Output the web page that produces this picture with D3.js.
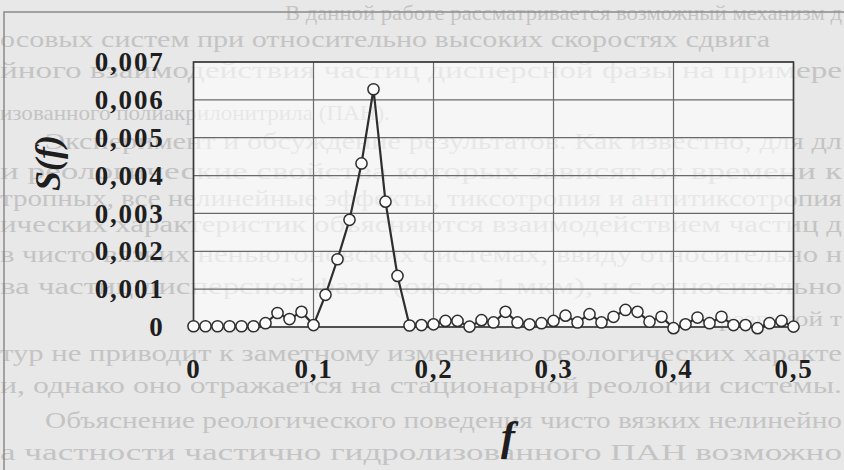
<!DOCTYPE html>
<html><head><meta charset="utf-8">
<script src="https://cdn.jsdelivr.net/npm/d3@7"></script>
<style>
html,body{margin:0;padding:0;background:#e8e8e8;}
svg{display:block;}
</style></head>
<body>
<svg id="chart" width="844" height="470"></svg>
<script>
// ---- data ----
const freq = [0,0.01,0.02,0.03,0.04,0.05,0.06,0.07,0.08,0.09,
  0.10,0.11,0.12,0.13,0.14,0.15,0.16,0.17,0.18,0.19,
  0.20,0.21,0.22,0.23,0.24,0.25,0.26,0.27,0.28,0.29,
  0.30,0.31,0.32,0.33,0.34,0.35,0.36,0.37,0.38,0.39,
  0.40,0.41,0.42,0.43,0.44,0.45,0.46,0.47,0.48,0.49,0.50];
const spectrum = [0.00002,0.00002,0.00002,0.00002,0.00002,0.00002,0.00010,0.00037,0.00021,0.00040,
  0.00005,0.00085,0.00179,0.00283,0.00432,0.00628,0.00331,0.00135,0.00004,0.00005,
  0.00007,0.00016,0.00016,0.00001,0.00018,0.00012,0.00040,0.00012,0.00007,0.00010,
  0.00016,0.00030,0.00012,0.00034,0.00012,0.00027,0.00045,0.00040,0.00014,0.00027,
  -0.00003,0.00007,0.00025,0.00010,0.00027,0.00005,0.00005,-0.00003,0.00010,0.00016,0.00001];
const xTicks = [0,0.1,0.2,0.3,0.4,0.5];
const xTickLabels = ["0","0,1","0,2","0,3","0,4","0,5"];
const yTicks = [0,0.001,0.002,0.003,0.004,0.005,0.006,0.007];
const yTickLabels = ["0","0,001","0,002","0,003","0,004","0,005","0,006","0,007"];
const xTitle = "f";
const yTitle = "S(f)";
const pageLines = [
  "В данной работе рассматривается возможный механизм д",
  "осовых систем при относительно высоких скоростях сдвига",
  "йного взаимодействия частиц дисперсной фазы на примере",
  "изованного полиакрилонитрила (ПАН).",
  "Эксперимент и обсуждение результатов. Как известно, для дл",
  "и реологические свойства которых зависят от времени к",
  "тропных, все нелинейные эффекты, тиксотропия и антитиксотропия",
  "ических характеристик объясняются взаимодействием частиц д",
  "в чисто вязких неньютоновских системах, ввиду относительно н",
  "ва частиц дисперсной фазы (около 1 мкм), и с относительно",
  "с развитой т",
  "тур не приводит к заметному изменению реологических характе",
  "и, однако оно отражается на стационарной реологии системы.",
  "Объяснение реологического поведения чисто вязких нелинейно",
  "а частности частично гидролизованного ПАН возможно"
];

// ---- layout ----
const W = 844, H = 470;
const plot = {left:193.5, right:793.5, top:62, bottom:327};
const svg = d3.select("#chart");

// page background with faint scanned text
svg.append("rect").attr("width",W).attr("height",H).attr("fill","#e8e8e8");
const lineGeom = [
  [285,842,20,21],[0,770,47,24],[0,842,78,24],[0,390,120,21],[45,842,149,24],
  [0,842,179,24],[0,842,206,24],[0,842,232,24],[0,842,262,24],[0,842,294,24],
  [700,842,326,21],[0,842,361,24],[0,842,393,24],[45,842,428,24],[0,842,460,24]
];
svg.append("g").selectAll("text").data(pageLines).join("text")
  .attr("x",(d,i)=>lineGeom[i][0])
  .attr("y",(d,i)=>lineGeom[i][2])
  .attr("textLength",(d,i)=>lineGeom[i][1]-lineGeom[i][0])
  .attr("lengthAdjust","spacingAndGlyphs")
  .attr("font-family","'Liberation Serif','DejaVu Serif',serif")
  .attr("font-size",(d,i)=>lineGeom[i][3])
  .attr("fill","#c4c4c4")
  .text(d=>d);

// figure frame
svg.append("path").attr("d","M4,470 V12 H844").attr("fill","none")
  .attr("stroke","#8a8a8a").attr("stroke-width",1.5);

// scales
const x = d3.scaleLinear().domain([0,0.5]).range([plot.left,plot.right]);
const y = d3.scaleLinear().domain([0,0.007]).range([plot.bottom,plot.top]);

// plot area (semi-opaque white)
svg.append("rect").attr("x",plot.left).attr("y",plot.top)
  .attr("width",plot.right-plot.left).attr("height",plot.bottom-plot.top)
  .attr("fill","#ffffff").attr("fill-opacity",0.6);

// grid
const grid = svg.append("g").attr("stroke","#6a6a6a").attr("stroke-width",1.2);
grid.selectAll("line.h").data(yTicks).join("line").attr("class","h")
  .attr("x1",plot.left).attr("x2",plot.right)
  .attr("y1",d=>y(d)).attr("y2",d=>y(d));
grid.selectAll("line.v").data(xTicks).join("line").attr("class","v")
  .attr("x1",d=>x(d)).attr("x2",d=>x(d))
  .attr("y1",plot.top).attr("y2",plot.bottom);

// border
svg.append("rect").attr("x",plot.left).attr("y",plot.top)
  .attr("width",plot.right-plot.left).attr("height",plot.bottom-plot.top)
  .attr("fill","none").attr("stroke","#3a3a3a").attr("stroke-width",1.6);

// axes
const fontTick = "'Liberation Serif','Times New Roman',serif";
const yAxis = d3.axisLeft(y).tickValues(yTicks)
  .tickFormat((d,i)=>yTickLabels[i]).tickSize(0).tickPadding(29);
const gy = svg.append("g").attr("transform",`translate(${plot.left},0)`).call(yAxis);
gy.select(".domain").remove();
gy.selectAll("text").attr("font-family",fontTick).attr("font-weight","bold")
  .attr("font-size",27).attr("letter-spacing",1.8).attr("fill","#1e1e1e");

const xAxis = d3.axisBottom(x).tickValues(xTicks)
  .tickFormat((d,i)=>xTickLabels[i]).tickSize(0).tickPadding(32);
const gx = svg.append("g").attr("transform",`translate(0,${plot.bottom})`).call(xAxis);
gx.select(".domain").remove();
gx.selectAll("text").attr("font-family",fontTick).attr("font-weight","bold")
  .attr("font-size",27).attr("letter-spacing",1.8).attr("fill","#1e1e1e");

// axis titles
svg.append("text").attr("transform","translate(60,163) rotate(-90)")
  .attr("text-anchor","middle")
  .attr("font-family",fontTick).attr("font-weight","bold").attr("font-style","italic")
  .attr("font-size",36).attr("fill","#1e1e1e").text(yTitle);
svg.append("text").attr("x",508).attr("y",450)
  .attr("text-anchor","middle")
  .attr("font-family",fontTick).attr("font-weight","bold").attr("font-style","italic")
  .attr("font-size",42).attr("fill","#1e1e1e").text(xTitle);

// data line + markers
const pts = freq.map((f,i)=>({f, s:spectrum[i]}));
svg.append("path").datum(pts)
  .attr("fill","none").attr("stroke","#2e2e2e").attr("stroke-width",2.2)
  .attr("stroke-linejoin","round")
  .attr("d",d3.line().x(d=>x(d.f)).y(d=>y(d.s)));
svg.append("g").selectAll("circle").data(pts).join("circle")
  .attr("cx",d=>x(d.f)).attr("cy",d=>y(d.s)).attr("r",5.6)
  .attr("fill","#fbfbfb").attr("stroke","#2e2e2e").attr("stroke-width",1.5);
</script>
</body></html>
